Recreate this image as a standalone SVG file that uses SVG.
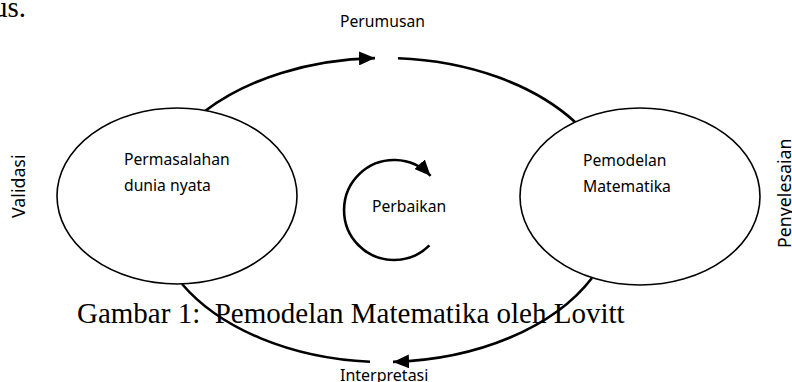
<svg xmlns="http://www.w3.org/2000/svg" width="792" height="382" viewBox="0 0 792 382">
  <style>
    .lbl { font-family: "Noto Sans", "Open Sans", sans-serif; font-size: 15.7px; fill: #000; }
    .side { font-family: "Noto Sans", "Open Sans", sans-serif; font-size: 17.8px; fill: #000; }
    .serif { font-family: "Liberation Serif", "Times New Roman", serif; font-size: 29px; fill: #000; }
    .node { fill: #fff; stroke: #000; stroke-width: 1.6; }
    .conn { fill: none; stroke: #000; stroke-width: 2.6; }
  </style>
  <defs>
    <marker id="arrow" viewBox="0 0 16 14" refX="16" refY="7" markerWidth="16" markerHeight="14" markerUnits="userSpaceOnUse" orient="auto">
      <path d="M0,0 L16,7 L0,14 z" fill="#000"/>
    </marker>
  </defs>

  <text class="serif" x="-7" y="17">us.</text>

  <g id="connectors">
    <path class="conn" d="M205,111 A234,152 0 0,1 375,58.1" marker-end="url(#arrow)"/>
    <path class="conn" d="M398,58.3 A234,152 0 0,1 575,122"/>
    <path class="conn" d="M592,278 A234,152 0 0,1 393,361.9" marker-end="url(#arrow)"/>
    <path class="conn" d="M370,361.8 A234,152 0 0,1 182,284"/>
  </g>

  <g id="node-permasalahan">
    <ellipse class="node" cx="177" cy="196" rx="120" ry="88"/>
    <text class="lbl" x="124" y="165">Permasalahan</text>
    <text class="lbl" x="124" y="191">dunia nyata</text>
  </g>

  <g id="node-pemodelan">
    <ellipse class="node" cx="640" cy="196.5" rx="120" ry="88.5"/>
    <text class="lbl" x="583" y="166">Pemodelan</text>
    <text class="lbl" x="583" y="192">Matematika</text>
  </g>

  <g id="node-perbaikan">
    <path class="conn" d="M429.4,245.4 A50,50 0 1,1 430.6,175.9" marker-end="url(#arrow)"/>
    <text class="lbl" x="372" y="212">Perbaikan</text>
  </g>

  <g id="label-perumusan">
    <text class="lbl" x="340" y="27">Perumusan</text>
  </g>
  <g id="label-interpretasi">
    <text class="lbl" x="340" y="381" style="font-size:16px">Interpretasi</text>
  </g>
  <g id="label-validasi">
    <text class="side" transform="translate(25,218) rotate(-90)">Validasi</text>
  </g>
  <g id="label-penyelesaian">
    <text class="side" transform="translate(791,248) rotate(-90)">Penyelesaian</text>
  </g>

  <text class="serif" x="77" y="323" xml:space="preserve">Gambar 1:  Pemodelan Matematika oleh Lovitt</text>
</svg>
